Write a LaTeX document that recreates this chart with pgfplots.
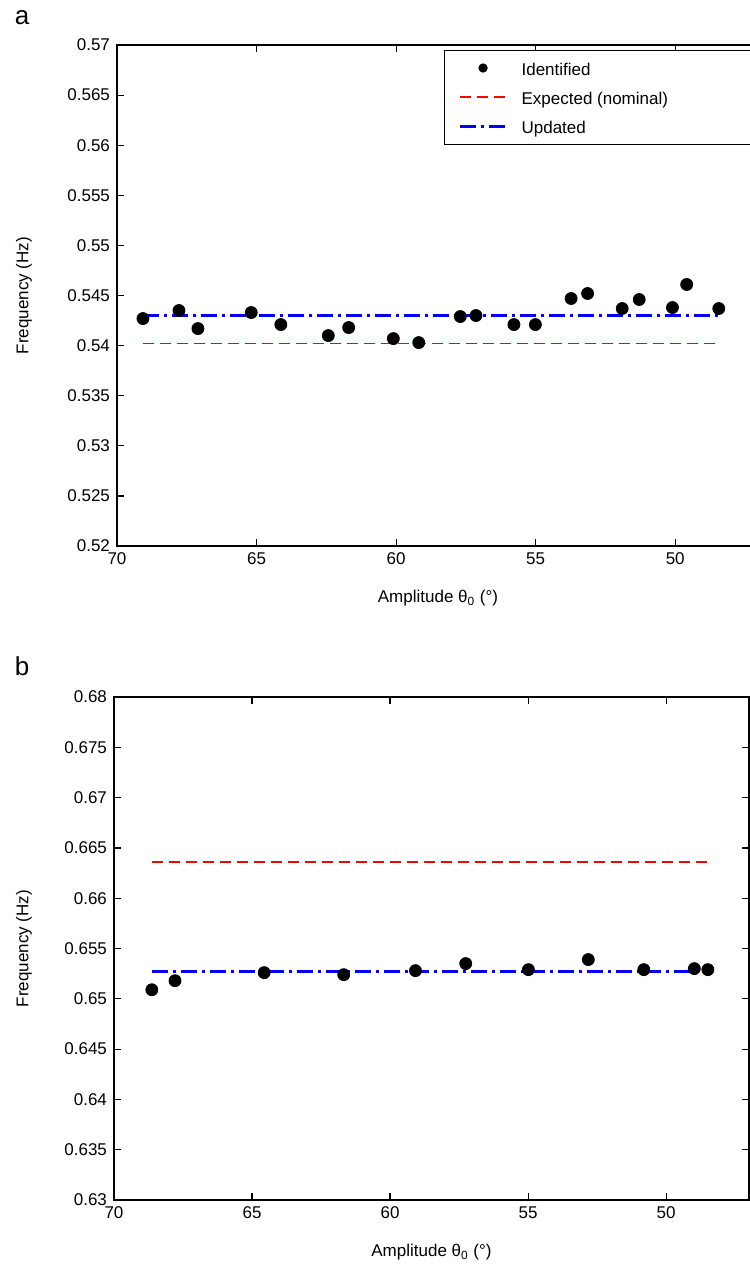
\documentclass[border=0pt]{standalone}
\usepackage{fontspec}
\setmainfont{Liberation Sans}
\usepackage{pgfplots}
\pgfplotsset{compat=1.18}
\definecolor{myred}{rgb}{1,0,0}
\definecolor{myblue}{rgb}{0,0,1}
\pgfplotsset{legend image code/.code={\draw[mark repeat=2,mark phase=2,#1] plot coordinates {(0pt,0pt) (11.5pt,0pt) (23pt,0pt)};}}
\begin{document}
\begin{tikzpicture}
\pgfplotsset{
  myaxis/.style={
    scale only axis,
    x dir=reverse, xmin=47, xmax=70,
    xtick={50,55,60,65,70},
    tick align=inside, tick pos=both,
    major tick length=3.5pt,
    tick style={black, line width=0.6pt},
    axis line style={black, line width=0.7pt},
    ticklabel style={font=\fontsize{8.5}{10}\selectfont},
    /pgf/number format/assume math mode=true,
    y tick label style={/pgf/number format/.cd, fixed, precision=3},
    scaled y ticks=false, scaled x ticks=false,
    label style={font=\fontsize{8.5}{10}\selectfont},
    xlabel={Amplitude θ\textsubscript{0} (°)},
    ylabel={Frequency (Hz)},
    xlabel style={at={(axis description cs:0.5,0)}, anchor=center, yshift=-26pt},
  },
}
% ---------- panel a ----------
\begin{axis}[myaxis,
  at={(58.5pt,-22.5pt)}, anchor=north west,
  width=321pt, height=250.5pt,
  ymin=0.52, ymax=0.57,
  ytick={0.52,0.525,0.53,0.535,0.54,0.545,0.55,0.555,0.56,0.565,0.57},
  ylabel style={at={(axis description cs:-0.1449,0.5)}, anchor=center},
  legend cell align=left,
  legend style={at={(rel axis cs:1,1)}, anchor=north east, xshift=-2pt, yshift=-2.5pt,
    draw=black, inner xsep=7pt, inner ysep=1.5pt,
    font=\fontsize{8.5}{10}\selectfont,
    nodes={minimum height=14.6pt, text height=11pt, text depth=3.6pt, inner xsep=3pt, inner ysep=0pt}},
]
\addlegendimage{only marks, mark=*, mark size=2.1pt, color=black}
\addlegendentry{\makebox[110.5pt][l]{\hspace{4pt}Identified}}
\addlegendimage{color=myred, line width=0.85pt, dash pattern=on 5.5pt off 3pt}
\addlegendentry{\makebox[110.5pt][l]{\hspace{4pt}Expected (nominal)}}
\addlegendimage{color=myblue, line width=1.5pt, dash pattern=on 8pt off 2.5pt on 1.5pt off 2.5pt}
\addlegendentry{\makebox[110.5pt][l]{\hspace{4pt}Updated}}
\addplot[forget plot, color=myred, line width=0.85pt, dash pattern=on 5.5pt off 3pt] coordinates {(69.07,0.5402) (48.44,0.5402)};
\addplot[forget plot, color=myblue, line width=1.5pt, dash pattern=on 8pt off 2.5pt on 1.5pt off 2.5pt] coordinates {(69.07,0.5430) (48.44,0.5430)};
\addplot[forget plot, only marks, mark=*, mark size=3pt, color=black] coordinates {
(69.07,0.5427) (67.78,0.5435) (67.10,0.5417) (65.19,0.5433) (64.13,0.5421)
(62.43,0.5410) (61.70,0.5418) (60.10,0.5407) (59.19,0.5403) (57.70,0.5429)
(57.14,0.5430) (55.78,0.5421) (55.01,0.5421) (53.73,0.5447) (53.14,0.5452)
(51.90,0.5437) (51.29,0.5446) (50.10,0.5438) (49.59,0.5461) (48.44,0.5437)
};
\end{axis}
% ---------- panel b ----------
\begin{axis}[myaxis,
  at={(57pt,-348.5pt)}, anchor=north west,
  width=317.5pt, height=251.5pt,
  ymin=0.63, ymax=0.68,
  ytick={0.63,0.635,0.64,0.645,0.65,0.655,0.66,0.665,0.67,0.675,0.68},
  ylabel style={at={(axis description cs:-0.1417,0.5)}, anchor=center},
]
\addplot[color=myred, line width=0.85pt, dash pattern=on 5.5pt off 3pt] coordinates {(68.63,0.6636) (48.49,0.6636)};
\addplot[color=myblue, line width=1.5pt, dash pattern=on 8pt off 2.5pt on 1.5pt off 2.5pt] coordinates {(68.63,0.6527) (48.49,0.6527)};
\addplot[only marks, mark=*, mark size=3pt, color=black] coordinates {
(68.63,0.6509) (67.79,0.6518) (64.56,0.6526) (61.68,0.6524) (59.08,0.6528)
(57.26,0.6535) (54.99,0.6529) (52.82,0.6539) (50.81,0.6529) (48.98,0.6530)
(48.49,0.6529)
};
\end{axis}
\node[font=\fontsize{13}{15}\selectfont] at (11pt,-9pt) {a};
\node[font=\fontsize{13}{15}\selectfont] at (11pt,-333pt) {b};
\pgfresetboundingbox
\path[use as bounding box] (0pt,0pt) rectangle (375pt,-633pt);
\end{tikzpicture}
\end{document}
